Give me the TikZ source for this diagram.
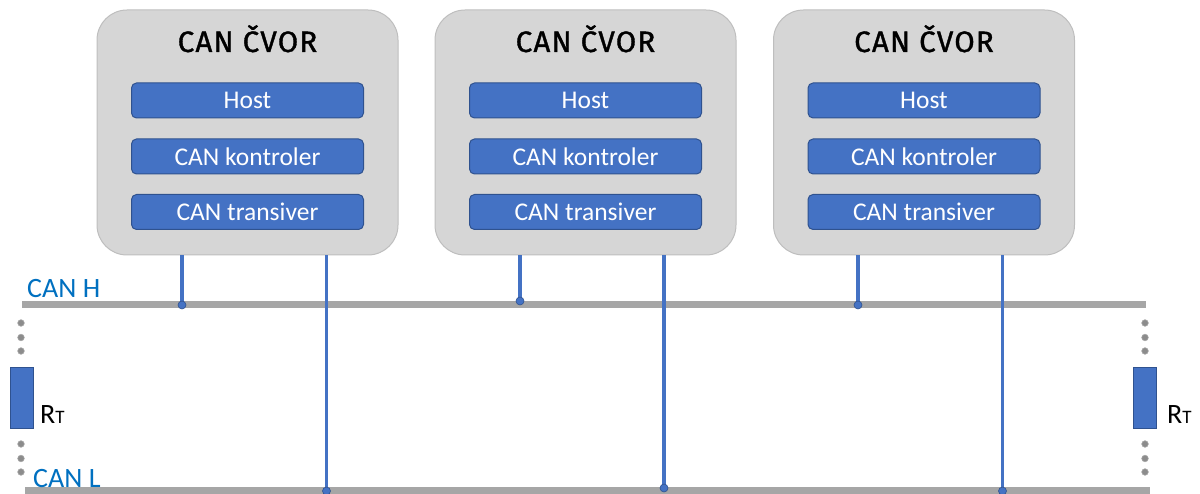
\documentclass[tikz,border=0pt]{standalone}
\usepackage{fontspec}
\setmainfont{Carlito}
\newfontfamily\titlefont{Fira Sans}[FakeBold=1.2,LetterSpace=4]
\definecolor{boxfill}{RGB}{214,214,214}
\definecolor{boxline}{RGB}{190,190,190}
\definecolor{blkfill}{RGB}{68,114,196}
\definecolor{blkline}{RGB}{47,82,143}
\definecolor{busgray}{RGB}{166,166,166}
\definecolor{lblblue}{RGB}{0,112,192}
\definecolor{dotgray}{RGB}{140,140,140}
\tikzset{
  canbox/.style={draw=boxline,fill=boxfill,line width=1pt,rounded corners=30pt,minimum width=301pt,minimum height=245pt,inner sep=0pt},
  title/.style={font=\titlefont\fontsize{29.5}{31}\selectfont,text=black,inner sep=0pt,anchor=base},
  blk/.style={draw=blkline,fill=blkfill,line width=1pt,rounded corners=5pt,minimum width=232pt,minimum height=35pt,inner sep=0pt,text=white,font=\fontsize{25.5}{27}\selectfont},
  bus/.style={draw=busgray,line width=7pt},
  conn/.style={draw=blkfill,line width=3.3pt},
  junction/.style={fill=blkfill,draw=blkline,line width=0.6pt},
  buslbl/.style={text=lblblue,font=\fontsize{28}{30}\selectfont,inner sep=0pt,anchor=base west},
  res/.style={draw=blkline,fill=blkfill,line width=1pt,minimum width=23pt,minimum height=60pt,inner sep=0pt},
  rlbl/.style={text=black,inner sep=0pt,anchor=base west,font=\fontsize{28}{30}\selectfont},
  gdot/.style={fill=dotgray,draw=gray!70,line width=0.6pt},
}
\begin{document}
\begin{tikzpicture}[x=1pt,y=-1pt]
\useasboundingbox (0,0) rectangle (1200,494);

% buses
\coordinate (hL) at (22,305);
\coordinate (hR) at (1146,305);
\coordinate (lL) at (25,490.5);
\coordinate (lR) at (1150,490.5);
\draw[bus] (hL) -- (hR);
\draw[bus] (lL) -- (lR);

% nodes
\foreach \i/\x in {1/247.5,2/585.5,3/924}{
  \node[canbox] (n\i) at (\x,132.5) {};
  \node[title] (t\i) at (\x,52) {CAN ČVOR};
  \node[blk] (h\i) at (\x,100.5) {Host};
  \node[blk] (k\i) at (\x,156.5) {CAN kontroler};
  \node[blk] (r\i) at (\x,212) {CAN transiver};
}

% junction points
\coordinate (dh1) at (182,305);
\coordinate (dh2) at (520,301);
\coordinate (dh3) at (858,305);
\coordinate (dl1) at (326.5,491);
\coordinate (dl2) at (664,488);
\coordinate (dl3) at (1002.5,491);

\draw[conn] (dh1 |- n1.south) -- (dh1);
\draw[conn] (dl1 |- n1.south) -- (dl1);
\draw[conn] (dh2 |- n2.south) -- (dh2);
\draw[conn] (dl2 |- n2.south) -- (dl2);
\draw[conn] (dh3 |- n3.south) -- (dh3);
\draw[conn] (dl3 |- n3.south) -- (dl3);
\foreach \d in {dh1,dh2,dh3,dl1,dl2,dl3}{
  \filldraw[junction] (\d) circle (4pt);
}

% labels
\node[buslbl] (lh) at (27,298) {CAN H};
\node[buslbl] (ll) at (33,487) {CAN L};

% terminating resistors
\node[res] (rl) at (21.5,398) {};
\node[res] (rr) at (1144.5,398) {};
\node[rlbl] (rtl) at (40,423) {R{\fontsize{19}{20}\selectfont T}};
\node[rlbl] (rtr) at (1167,423) {R{\fontsize{19}{20}\selectfont T}};

% dots
\foreach \y in {323,337.5,351,444,458.5,472}{
  \filldraw[gdot] (21,\y) circle (3.3pt);
  \filldraw[gdot] (1145,\y) circle (3.3pt);
}
\end{tikzpicture}
\end{document}
